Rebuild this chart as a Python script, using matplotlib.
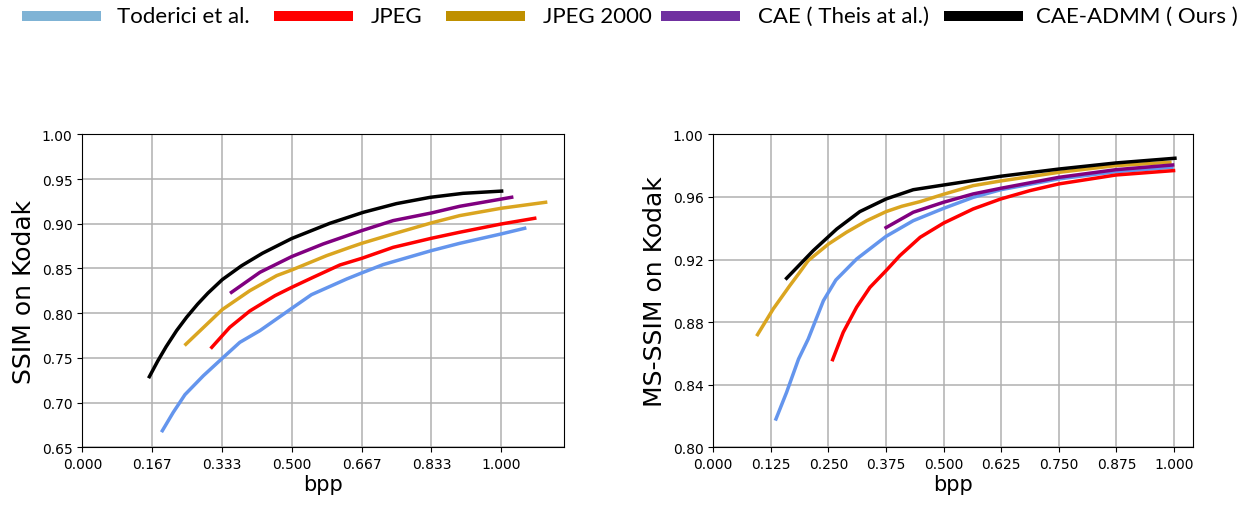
import numpy as np
import matplotlib
matplotlib.use("Agg")
import matplotlib.pyplot as plt
from matplotlib.patches import Rectangle
from matplotlib.ticker import FormatStrFormatter

# ---- data ----
names = ["Toderici et al.", "JPEG", "JPEG 2000", "CAE ( Theis at al.)", "CAE-ADMM ( Ours )"]

# SSIM on Kodak (left panel)
ssim_tod_x = [0.191, 0.217, 0.245, 0.289, 0.334, 0.376, 0.424, 0.5, 0.547, 0.631, 0.667, 0.718, 0.833, 0.901, 1.0, 1.056]
ssim_tod_y = [0.6686, 0.6891, 0.7089, 0.7301, 0.7495, 0.7674, 0.7805, 0.8054, 0.8207, 0.8382, 0.845, 0.8543, 0.8699, 0.8781, 0.8886, 0.8949]
ssim_jpg_x = [0.309, 0.352, 0.400, 0.460, 0.5, 0.551, 0.615, 0.667, 0.742, 0.833, 0.901, 1.0, 1.080]
ssim_jpg_y = [0.7618, 0.7842, 0.8025, 0.8196, 0.8289, 0.8401, 0.8539, 0.8613, 0.8736, 0.8837, 0.8905, 0.8997, 0.9061]
ssim_j2k_x = [0.247, 0.334, 0.400, 0.464, 0.5, 0.583, 0.639, 0.667, 0.742, 0.833, 0.901, 1.0, 1.106]
ssim_j2k_y = [0.7652, 0.804, 0.8252, 0.842, 0.8483, 0.8643, 0.8736, 0.8781, 0.8886, 0.9009, 0.9091, 0.9173, 0.924]
ssim_cae_x = [0.356, 0.424, 0.5, 0.575, 0.667, 0.742, 0.833, 0.901, 1.025]
ssim_cae_y = [0.8233, 0.8457, 0.8633, 0.8774, 0.8923, 0.9035, 0.912, 0.9195, 0.9296]
ssim_ours_x = [0.160, 0.180, 0.200, 0.225, 0.249, 0.275, 0.300, 0.334, 0.380, 0.430, 0.500,
               0.591, 0.671, 0.750, 0.830, 0.909, 1.001]
ssim_ours_y = [0.729, 0.7465, 0.7625, 0.7805, 0.7955, 0.8100, 0.8225, 0.8375, 0.8530, 0.8670, 0.8835,
               0.9005, 0.9128, 0.9225, 0.9295, 0.9340, 0.9365]

# MS-SSIM on Kodak (right panel)
ms_tod_x = [0.136, 0.159, 0.185, 0.206, 0.239, 0.266, 0.311, 0.375, 0.434, 0.5, 0.564, 0.624, 0.75, 0.874, 0.995]
ms_tod_y = [0.8181, 0.8351, 0.8564, 0.8692, 0.8937, 0.9069, 0.9203, 0.9348, 0.9448, 0.9527, 0.9597, 0.9646, 0.9715, 0.9761, 0.9789]
ms_jpg_x = [0.259, 0.282, 0.311, 0.340, 0.375, 0.405, 0.449, 0.5, 0.564, 0.624, 0.687, 0.75, 0.874, 0.999]
ms_jpg_y = [0.856, 0.8735, 0.8895, 0.9022, 0.9129, 0.9225, 0.9342, 0.9433, 0.9523, 0.9587, 0.964, 0.9683, 0.974, 0.9768]
ms_j2k_x = [0.096, 0.130, 0.166, 0.185, 0.206, 0.25, 0.289, 0.333, 0.375, 0.409, 0.449, 0.5, 0.564, 0.624, 0.75, 0.874, 0.991]
ms_j2k_y = [0.872, 0.8884, 0.9033, 0.9108, 0.9193, 0.9299, 0.9374, 0.9448, 0.9506, 0.954, 0.957, 0.9617, 0.9672, 0.9702, 0.9757, 0.98, 0.9821]
ms_cae_x = [0.375, 0.434, 0.5, 0.564, 0.624, 0.75, 0.874, 0.997]
ms_cae_y = [0.9404, 0.9502, 0.9566, 0.9619, 0.9655, 0.9725, 0.9774, 0.9804]
ms_ours_x = [0.159, 0.217, 0.268, 0.318, 0.375, 0.434, 0.5, 0.624, 0.75, 0.874, 1.002]
ms_ours_y = [0.908, 0.9257, 0.9395, 0.9506, 0.9587, 0.9646, 0.9676, 0.9732, 0.9778, 0.9817, 0.9847]

line_colors = ["cornflowerblue", "red", "goldenrod", "purple", "black"]
legend_colors = ["#7fb3d5", "#ff0000", "#bf9000", "#7030a0", "#000000"]

left_xticks = [0, 1/6, 2/6, 3/6, 4/6, 5/6, 1.0]
right_xticks = [0, 0.125, 0.25, 0.375, 0.5, 0.625, 0.75, 0.875, 1.0]
left_yticks = [0.65, 0.70, 0.75, 0.80, 0.85, 0.90, 0.95, 1.00]
right_yticks = [0.80, 0.84, 0.88, 0.92, 0.96, 1.00]

fig = plt.figure(figsize=(12.44, 5.06), dpi=100)
ax1 = fig.add_axes([0.0662, 0.114, 0.3872, 0.6186])
ax2 = fig.add_axes([0.5734, 0.114, 0.3859, 0.6186])

left = [(ssim_tod_x, ssim_tod_y), (ssim_jpg_x, ssim_jpg_y), (ssim_j2k_x, ssim_j2k_y),
        (ssim_cae_x, ssim_cae_y), (ssim_ours_x, ssim_ours_y)]
right = [(ms_tod_x, ms_tod_y), (ms_jpg_x, ms_jpg_y), (ms_j2k_x, ms_j2k_y),
         (ms_cae_x, ms_cae_y), (ms_ours_x, ms_ours_y)]

for (x, y), c in zip(left, line_colors):
    ax1.plot(x, y, color=c, lw=2.5)
for (x, y), c in zip(right, line_colors):
    ax2.plot(x, y, color=c, lw=2.5)

ax1.set_xlim(0, 1.15)
ax1.set_ylim(0.65, 1.0)
ax1.set_xticks(left_xticks)
ax1.set_yticks(left_yticks)
ax1.yaxis.set_major_formatter(FormatStrFormatter('%.2f'))
ax1.xaxis.set_major_formatter(FormatStrFormatter('%.3f'))
ax1.set_ylabel("SSIM on Kodak", fontsize=18)

ax2.set_xlim(0, 1.042)
ax2.set_ylim(0.80, 1.0)
ax2.set_xticks(right_xticks)
ax2.set_yticks(right_yticks)
ax2.yaxis.set_major_formatter(FormatStrFormatter('%.2f'))
ax2.xaxis.set_major_formatter(FormatStrFormatter('%.3f'))
ax2.set_ylabel("MS-SSIM on Kodak", fontsize=18)

for ax in (ax1, ax2):
    ax.grid(True, color='#b0b0b0', lw=1.1)
    ax.set_axisbelow(True)
    ax.set_xlabel("bpp", fontsize=15, labelpad=2)
    ax.tick_params(labelsize=10)

# legend drawn by hand along the top
patch_x = [22, 274, 446, 661, 944]
text_x = [117, 371, 543, 758, 1036]
for px, tx, name, c in zip(patch_x, text_x, names, legend_colors):
    fig.add_artist(Rectangle((px / 1244, 1 - 22 / 506), 79 / 1244, 10 / 506,
                             transform=fig.transFigure, color=c, lw=0))
    fig.text(tx / 1244, 1 - 17 / 506, name, fontsize=16, family="Lato",
             va='center', ha='left')

fig.savefig("out.png", dpi=100)
